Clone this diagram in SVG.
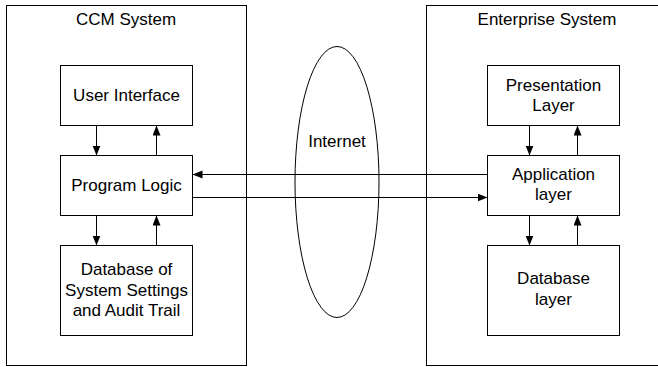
<svg xmlns="http://www.w3.org/2000/svg" width="658" height="367" viewBox="0 0 658 367">
  <style>
    .frame { fill: #fff; stroke: #000; stroke-width: 1; }
    .box { fill: #fff; stroke: #000; stroke-width: 1; }
    .lbl { font-family: "Liberation Sans", Arial, sans-serif; font-size: 17px; fill: #000; text-anchor: middle; }
    .wire { fill: none; stroke: #000; stroke-width: 1; marker-end: url(#arrow); }
  </style>
  <defs>
    <marker id="arrow" markerUnits="userSpaceOnUse" markerWidth="11" markerHeight="9" refX="10" refY="4" orient="auto">
      <path d="M0,0 L10,4 L0,8 Z" fill="#000"/>
    </marker>
  </defs>
  <rect width="658" height="367" fill="#fff"/>

  <!-- system frames -->
  <g id="ccm-system">
    <rect class="frame" x="6.5" y="5.5" width="240" height="360"/>
    <text class="lbl" x="126" y="25">CCM System</text>
  </g>
  <g id="enterprise-system">
    <rect class="frame" x="426.5" y="5.5" width="241" height="360"/>
    <text class="lbl" x="547" y="25">Enterprise System</text>
  </g>

  <!-- network cloud -->
  <g id="internet">
    <ellipse cx="337" cy="182" rx="42" ry="135.5" fill="#fff" stroke="#000" stroke-width="1"/>
    <text class="lbl" x="337" y="147">Internet</text>
  </g>

  <!-- CCM side -->
  <g id="user-interface">
    <rect class="box" x="60.5" y="65.5" width="132" height="60"/>
    <text class="lbl" x="126.5" y="101">User Interface</text>
  </g>
  <g id="program-logic">
    <rect class="box" x="60.5" y="155.5" width="132" height="60"/>
    <text class="lbl" x="126.5" y="191">Program Logic</text>
  </g>
  <g id="ccm-database">
    <rect class="box" x="60.5" y="245.5" width="132" height="90"/>
    <text class="lbl" x="126.5" y="275">Database of</text>
    <text class="lbl" x="126.5" y="296">System Settings</text>
    <text class="lbl" x="126.5" y="316">and Audit Trail</text>
  </g>

  <!-- Enterprise side -->
  <g id="presentation-layer">
    <rect class="box" x="487.5" y="65.5" width="132" height="60"/>
    <text class="lbl" x="553.5" y="91">Presentation</text>
    <text class="lbl" x="553.5" y="111">Layer</text>
  </g>
  <g id="application-layer">
    <rect class="box" x="487.5" y="155.5" width="132" height="60"/>
    <text class="lbl" x="553.5" y="180">Application</text>
    <text class="lbl" x="553.5" y="200">layer</text>
  </g>
  <g id="database-layer">
    <rect class="box" x="487.5" y="245.5" width="132" height="90"/>
    <text class="lbl" x="553.5" y="284">Database</text>
    <text class="lbl" x="553.5" y="305">layer</text>
  </g>

  <!-- connectors -->
  <g id="connectors">
    <line class="wire" x1="96.5" y1="125.5" x2="96.5" y2="155.5"/>
    <line class="wire" x1="156.5" y1="155.5" x2="156.5" y2="125.5"/>
    <line class="wire" x1="96.5" y1="215.5" x2="96.5" y2="245.5"/>
    <line class="wire" x1="156.5" y1="245.5" x2="156.5" y2="215.5"/>
    <line class="wire" x1="529.5" y1="125.5" x2="529.5" y2="155.5"/>
    <line class="wire" x1="577.5" y1="155.5" x2="577.5" y2="125.5"/>
    <line class="wire" x1="529.5" y1="215.5" x2="529.5" y2="245.5"/>
    <line class="wire" x1="577.5" y1="245.5" x2="577.5" y2="215.5"/>
    <line class="wire" x1="487.5" y1="174.5" x2="192.5" y2="174.5"/>
    <line class="wire" x1="192.5" y1="197.5" x2="487.5" y2="197.5"/>
  </g>
</svg>
